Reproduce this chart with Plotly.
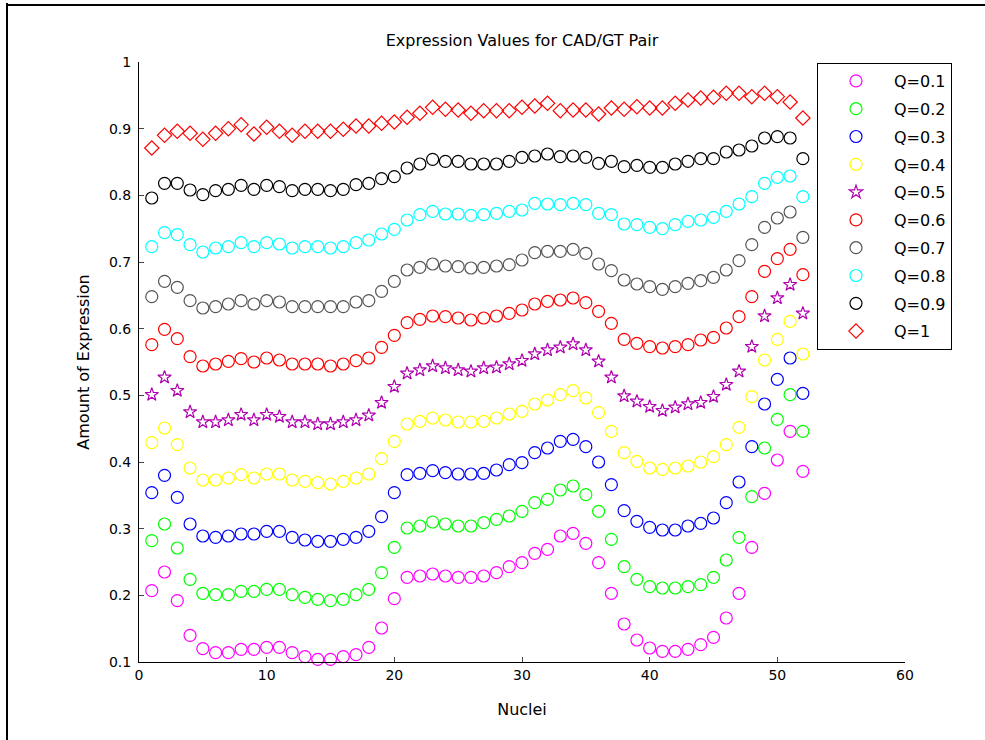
import plotly.graph_objects as go

# Nucleus index along the embryo axis
nuclei = list(range(1, 53))

# Expression profiles for each threshold Q
q01 = [0.207, 0.235, 0.192, 0.140, 0.120, 0.114, 0.114, 0.119, 0.119, 0.122, 0.122, 0.114, 0.108,
       0.104, 0.104, 0.108, 0.111, 0.122, 0.151, 0.195, 0.227, 0.229, 0.232, 0.229, 0.227, 0.227,
       0.229, 0.234, 0.243, 0.249, 0.263, 0.269, 0.289, 0.293, 0.278, 0.249, 0.203, 0.157, 0.133,
       0.121, 0.116, 0.116, 0.119, 0.126, 0.137, 0.166, 0.203, 0.272, 0.353, 0.403, 0.446, 0.386]
q02 = [0.282, 0.307, 0.271, 0.224, 0.203, 0.201, 0.201, 0.206, 0.206, 0.209, 0.209, 0.201, 0.197,
       0.194, 0.192, 0.194, 0.201, 0.209, 0.234, 0.272, 0.301, 0.304, 0.310, 0.307, 0.304, 0.304,
       0.309, 0.314, 0.319, 0.326, 0.339, 0.344, 0.358, 0.364, 0.351, 0.326, 0.284, 0.243, 0.224,
       0.213, 0.211, 0.211, 0.213, 0.216, 0.227, 0.253, 0.287, 0.348, 0.421, 0.464, 0.501, 0.446]
q03 = [0.354, 0.380, 0.347, 0.307, 0.289, 0.287, 0.289, 0.292, 0.292, 0.296, 0.296, 0.287, 0.283,
       0.281, 0.281, 0.284, 0.287, 0.296, 0.318, 0.354, 0.381, 0.383, 0.387, 0.384, 0.382, 0.382,
       0.383, 0.388, 0.396, 0.399, 0.414, 0.421, 0.431, 0.434, 0.423, 0.400, 0.366, 0.327, 0.311,
       0.302, 0.298, 0.298, 0.304, 0.308, 0.316, 0.339, 0.370, 0.423, 0.487, 0.524, 0.556, 0.503]
q04 = [0.429, 0.451, 0.426, 0.391, 0.373, 0.373, 0.376, 0.381, 0.376, 0.382, 0.382, 0.373, 0.371,
       0.369, 0.367, 0.371, 0.376, 0.382, 0.405, 0.431, 0.457, 0.461, 0.466, 0.463, 0.460, 0.460,
       0.461, 0.466, 0.472, 0.476, 0.487, 0.493, 0.501, 0.507, 0.496, 0.474, 0.446, 0.414, 0.401,
       0.391, 0.389, 0.391, 0.394, 0.400, 0.408, 0.426, 0.452, 0.498, 0.553, 0.584, 0.611, 0.562]
q05 = [0.501, 0.527, 0.507, 0.475, 0.460, 0.460, 0.463, 0.471, 0.463, 0.471, 0.468, 0.460, 0.460,
       0.457, 0.457, 0.460, 0.463, 0.470, 0.489, 0.513, 0.533, 0.538, 0.544, 0.541, 0.538, 0.536,
       0.541, 0.542, 0.547, 0.552, 0.562, 0.568, 0.572, 0.577, 0.568, 0.551, 0.527, 0.499, 0.491,
       0.483, 0.477, 0.482, 0.487, 0.489, 0.498, 0.516, 0.536, 0.573, 0.619, 0.646, 0.666, 0.623]
q06 = [0.576, 0.599, 0.585, 0.558, 0.544, 0.547, 0.551, 0.555, 0.550, 0.556, 0.553, 0.547, 0.547,
       0.547, 0.544, 0.547, 0.552, 0.556, 0.572, 0.590, 0.609, 0.614, 0.619, 0.618, 0.616, 0.613,
       0.616, 0.619, 0.623, 0.628, 0.637, 0.641, 0.643, 0.646, 0.639, 0.626, 0.608, 0.584, 0.578,
       0.573, 0.571, 0.573, 0.576, 0.583, 0.587, 0.601, 0.618, 0.648, 0.686, 0.705, 0.719, 0.681]
q07 = [0.648, 0.671, 0.662, 0.642, 0.631, 0.633, 0.637, 0.642, 0.637, 0.642, 0.640, 0.633, 0.633,
       0.633, 0.633, 0.633, 0.640, 0.642, 0.656, 0.671, 0.688, 0.692, 0.697, 0.694, 0.693, 0.691,
       0.692, 0.694, 0.696, 0.703, 0.714, 0.716, 0.716, 0.719, 0.713, 0.697, 0.687, 0.673, 0.667,
       0.663, 0.659, 0.663, 0.668, 0.672, 0.677, 0.688, 0.702, 0.726, 0.752, 0.766, 0.775, 0.737]
q08 = [0.723, 0.744, 0.741, 0.726, 0.715, 0.721, 0.723, 0.729, 0.723, 0.729, 0.727, 0.721, 0.723,
       0.723, 0.721, 0.723, 0.729, 0.733, 0.742, 0.749, 0.763, 0.771, 0.776, 0.772, 0.772, 0.770,
       0.771, 0.773, 0.776, 0.778, 0.788, 0.787, 0.786, 0.788, 0.786, 0.773, 0.771, 0.757, 0.756,
       0.752, 0.750, 0.756, 0.761, 0.763, 0.767, 0.776, 0.787, 0.798, 0.818, 0.827, 0.829, 0.798]
q09 = [0.796, 0.818, 0.818, 0.808, 0.801, 0.807, 0.809, 0.815, 0.809, 0.815, 0.813, 0.807, 0.809,
       0.809, 0.807, 0.809, 0.816, 0.818, 0.825, 0.828, 0.841, 0.847, 0.854, 0.851, 0.851, 0.847,
       0.847, 0.847, 0.851, 0.857, 0.859, 0.862, 0.858, 0.859, 0.857, 0.848, 0.851, 0.843, 0.845,
       0.842, 0.842, 0.847, 0.851, 0.855, 0.855, 0.865, 0.868, 0.874, 0.886, 0.888, 0.886, 0.855]
q10 = [0.871, 0.890, 0.896, 0.893, 0.884, 0.893, 0.900, 0.906, 0.892, 0.902, 0.896, 0.890, 0.896,
       0.896, 0.896, 0.899, 0.904, 0.904, 0.908, 0.910, 0.917, 0.923, 0.932, 0.929, 0.928, 0.923,
       0.927, 0.927, 0.927, 0.932, 0.934, 0.938, 0.927, 0.928, 0.928, 0.922, 0.931, 0.929, 0.933,
       0.931, 0.931, 0.938, 0.943, 0.946, 0.947, 0.953, 0.953, 0.948, 0.953, 0.948, 0.940, 0.916]

series_names = ["Q=0.1", "Q=0.2", "Q=0.3", "Q=0.4", "Q=0.5",
                "Q=0.6", "Q=0.7", "Q=0.8", "Q=0.9", "Q=1"]
series_values = [q01, q02, q03, q04, q05, q06, q07, q08, q09, q10]

y_ticks = [0.1, 0.2, 0.3, 0.4, 0.5, 0.6, 0.7, 0.8, 0.9, 1.0]
y_tick_text = ["0.1", "0.2", "0.3", "0.4", "0.5", "0.6", "0.7", "0.8", "0.9", "1"]
x_ticks = [0, 10, 20, 30, 40, 50, 60]

colors = ["#ff00ff", "#00ff00", "#0000ff", "#ffff00", "#b000b0",
          "#ff0000", "#555555", "#00ffff", "#000000", "#ff0000"]
symbols = ["circle-open"] * 4 + ["star-open"] + ["circle-open"] * 4 + ["diamond-open"]
sizes = [12, 12, 12, 12, 10, 12, 12, 12, 12, 11]

FONT = "DejaVu Sans, Verdana, sans-serif"

W, H = 985, 740
L, R, T, B = 139, 905, 62, 662  # plot-area edges in pixels


def px_x(p):
    return (p - L) / (R - L)


def px_y(p):
    return (B - p) / (B - T)


fig = go.Figure()
for i, (name, vals) in enumerate(zip(series_names, series_values)):
    fig.add_trace(go.Scatter(
        x=nuclei, y=vals, name=name, mode="markers",
        legendgroup=name, cliponaxis=False,
        marker=dict(symbol=symbols[i], size=sizes[i], color=colors[i],
                    line=dict(width=1.2, color=colors[i])),
    ))

fig.update_layout(
    width=W, height=H,
    margin=dict(l=L, r=W - R, t=T, b=H - B),
    paper_bgcolor="white", plot_bgcolor="white",
    font=dict(family=FONT, size=14, color="black"),
    title=dict(text="Expression Values for CAD/GT Pair", x=0.5 * (L + R) / W,
               xanchor="center", y=1 - 40 / H, yanchor="middle",
               font=dict(family=FONT, size=16, color="black")),
    showlegend=True,
    legend=dict(x=px_x(817), y=px_y(63), xanchor="left", yanchor="top",
                bgcolor="white", bordercolor="black", borderwidth=1,
                font=dict(family=FONT, size=16, color="black"),
                itemwidth=66, tracegroupgap=4, itemclick=False),
    xaxis=dict(range=[0, 60], tickvals=x_ticks, ticks="inside", ticklen=5,
               showline=True, linecolor="black", linewidth=1, showgrid=False,
               zeroline=False, tickfont=dict(family=FONT, size=14),
               title=dict(text="Nuclei", standoff=22,
                          font=dict(family=FONT, size=16))),
    yaxis=dict(range=[0.1, 1.0], tickvals=y_ticks, ticktext=y_tick_text,
               ticks="inside", ticklen=5, showline=True, linecolor="black",
               linewidth=1, showgrid=False, zeroline=False,
               ticklabelstandoff=4,
               tickfont=dict(family=FONT, size=14),
               title=dict(text="Amount of Expression", standoff=15,
                          font=dict(family=FONT, size=16))),
)

# Window frame around the figure
fig.add_shape(type="line", xref="paper", yref="paper",
              x0=px_x(7), x1=px_x(7), y0=px_y(3), y1=px_y(H + 5),
              line=dict(color="black", width=2))
fig.add_shape(type="line", xref="paper", yref="paper",
              x0=px_x(6), x1=px_x(W + 5), y0=px_y(5), y1=px_y(5),
              line=dict(color="black", width=2))

fig.write_html("out.html")
